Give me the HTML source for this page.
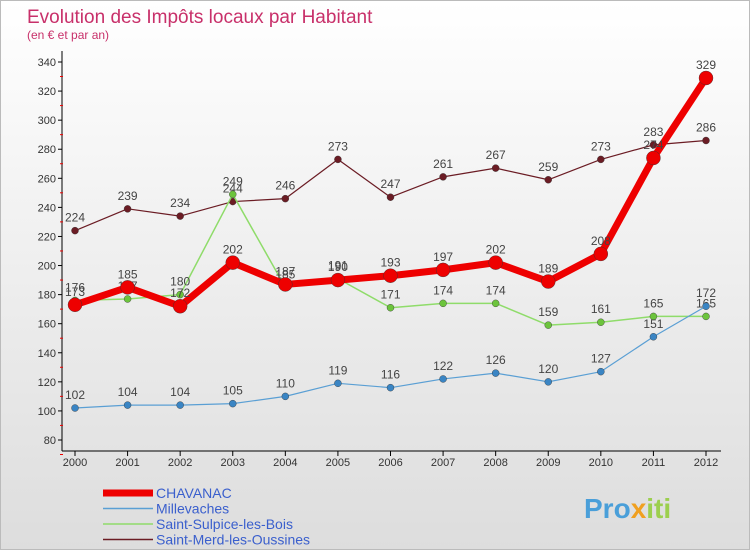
<!DOCTYPE html>
<html><head><meta charset="utf-8"><style>
body{margin:0;width:750px;height:550px;overflow:hidden;font-family:"Liberation Sans",sans-serif;}
#wrap{position:relative;width:748px;height:548px;border:1px solid #bbb;background:linear-gradient(#fff,#ddd);}
</style></head><body>
<div id="wrap">
<svg id="c" width="748" height="548" xmlns="http://www.w3.org/2000/svg">
<text x="26" y="22" font-size="19" fill="#c8306a">Evolution des Impôts locaux par Habitant</text>
<text x="26" y="38" font-size="12" fill="#c8306a">(en € et par an)</text>
<g id="axes"></g><g id="series"></g><g id="legend"></g>
<text x="583" y="517" font-size="28" font-weight="bold" fill="#4a9fd9">Pro<tspan fill="#f0a020">x</tspan><tspan fill="#9ccf4f">iti</tspan></text>
</svg></div>
<script>
const years=["2000","2001","2002","2003","2004","2005","2006","2007","2008","2009","2010","2011","2012"];
const yTicks=[80,100,120,140,160,180,200,220,240,260,280,300,320,340];
const names=["CHAVANAC","Millevaches","Saint-Sulpice-les-Bois","Saint-Merd-les-Oussines"];
const chavanac=[173,185,172,202,187,190,193,197,202,189,208,274,329];
const millevaches=[102,104,104,105,110,119,116,122,126,120,127,151,172];
const sulpice=[176,177,180,249,185,191,171,174,174,159,161,165,165];
const merd=[224,239,234,244,246,273,247,261,267,259,273,283,286];
const NS="http://www.w3.org/2000/svg";
const xS=i=>74+i*(631/12);
const yS=v=>439-(v-80)*(378/260);
function mk(t,a,p){const e=document.createElementNS(NS,t);for(const k in a)e.setAttribute(k,a[k]);p.appendChild(e);return e;}
const ax=document.getElementById('axes');
let l=mk('line',{x1:61,y1:50,x2:61,y2:450,stroke:'#000'},ax);

l=mk('line',{x1:61,y1:450,x2:720,y2:450,stroke:'#000'},ax);

yTicks.forEach(v=>{const y=yS(v);mk('line',{x1:57,y1:y,x2:61,y2:y,stroke:'#000'},ax);
 mk('line',{x1:59,y1:y+14.5,x2:62,y2:y+14.5,stroke:'#e00'},ax);
 const t=mk('text',{x:55,y:y+4,'font-size':11,'text-anchor':'end',fill:'#333'},ax);t.textContent=v;
 });
years.forEach((yr,i)=>{const x=xS(i);mk('line',{x1:x,y1:450,x2:x,y2:455,stroke:'#000'},ax);
 const t=mk('text',{x:x,y:465,'font-size':11,'text-anchor':'middle',fill:'#333'},ax);t.textContent=yr;
 });
const sg=document.getElementById('series');
const defs=[[merd,'#6b1c24','#6b1c24',1.2,3.5,'series-saint-merd'],[sulpice,'#8fdc6a','#6cc43c',1.5,3.5,'series-saint-sulpice'],[millevaches,'#5a9fd4','#3a85c4',1.2,3.5,'series-millevaches'],[chavanac,'#ee0000','#ee0000',7,7,'series-chavanac']];
defs.forEach(([d,c,fc,w,r,n])=>{const g=mk('g',{},sg);
 const p=mk('polyline',{points:d.map((v,i)=>xS(i)+','+yS(v)).join(' '),fill:'none',stroke:c,'stroke-width':w,'stroke-linejoin':'round'},g);
 
 d.forEach((v,i)=>{const pt=mk('circle',{cx:xS(i),cy:yS(v),r:r,fill:fc,stroke:'#333','stroke-width':0.4},g);
  
  const t=mk('text',{x:xS(i),y:yS(v)-9,'font-size':12,'text-anchor':'middle',fill:'#444'},g);t.textContent=v;
  });});
const lg=document.getElementById('legend');
const lc=[['#ee0000',7],['#5a9fd4',1.5],['#8fdc6a',1.5],['#6b1c24',1.5]];
names.forEach((n,i)=>{const y=492+i*15.5;const g=mk('g',{},lg);
 mk('line',{x1:102,y1:y,x2:152,y2:y,stroke:lc[i][0],'stroke-width':lc[i][1]},g);
 const t=mk('text',{x:155,y:y+5,'font-size':14,fill:'#3a5fcd'},g);t.textContent=n;});
</script></body></html>
